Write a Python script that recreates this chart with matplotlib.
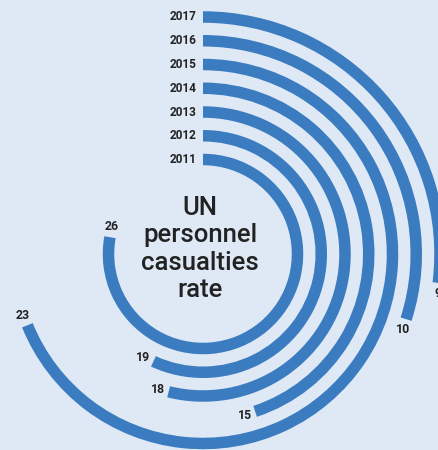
import numpy as np
import matplotlib
matplotlib.use("Agg")
import matplotlib.pyplot as plt

# data
years = ["2011", "2012", "2013", "2014", "2015", "2016", "2017"]
values = [26, 19, 18, 15, 23, 10, 9]
title = "UN\npersonnel\ncasualties\nrate"

# a full turn of the ring stands for this many units
full_turn = 33.4

bg = "#dee9f5"
bar_color = "#3b7cc0"
text_color = "#222222"

W, H = 439, 450
fig = plt.figure(figsize=(W / 100, H / 100), dpi=100, facecolor=bg)

# polar axes centred on the rings, larger than the figure (gets cropped)
cx, cy = 203, 254          # centre in pixels from top-left
R = 250                    # radius of the axes in pixels
ax = fig.add_axes([(cx - R) / W, (H - cy - R) / H, 2 * R / W, 2 * R / H],
                  projection="polar")
ax.set_theta_zero_location("N")
ax.set_theta_direction(-1)
ax.set_ylim(0, R)
ax.set_axis_off()

r0, step, thick = 94.5, 23.75, 11.5
radii = r0 + step * np.arange(len(years))
angles = np.array(values) / full_turn * 2 * np.pi

ax.barh(radii, angles, left=0, height=thick, color=bar_color, align="center")

for yr, r, a, v in zip(years, radii, angles, values):
    ax.annotate(yr, xy=(0, r), xytext=(-6, 0), textcoords="offset pixels",
                ha="right", va="center", fontsize=8.5, fontweight="bold",
                color=text_color, family="Roboto")
    ax.text(a + 11 / r, r + 1, str(v), ha="center", va="center", fontsize=8.8,
            fontweight="bold", color=text_color, family="Roboto")

fig.text(200 / W, 1 - 249 / H, title, ha="center", va="center",
         fontsize=18.5, fontweight="medium", color=text_color,
         family="Roboto", linespacing=1.17)

fig.savefig("out.png", dpi=100, facecolor=bg)
